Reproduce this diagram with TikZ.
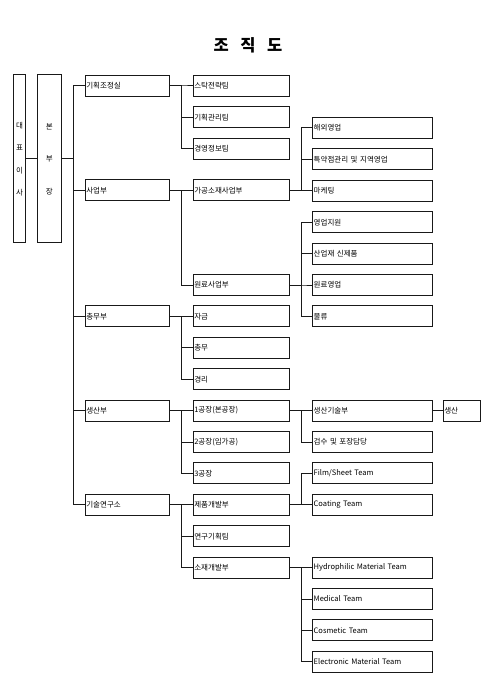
\documentclass[tikz,border=0pt]{standalone}
\usepackage{fontspec}
\newfontfamily\kr{Noto Sans CJK KR}

\begin{document}
\begin{tikzpicture}[x=1pt, y=-1pt, line width=1pt, color=black!90]
\useasboundingbox (0,0) rectangle (495,700);
\node[black, font=\kr\bfseries\fontsize{16.5}{18}\selectfont] (title) at (248,45.5) {조\hspace{11.5pt}직\hspace{11.5pt}도};
\tikzstyle{every node} = [draw, inner sep=1pt, minimum height=21pt, align=left, text=black, font=\kr\fontsize{7.5}{9}\selectfont]
\tikzstyle{lv1} = [text width=82pt]
\tikzstyle{lv2} = [text width=94pt]
\tikzstyle{lv3} = [text width=118pt]
\node[minimum width=12.4pt, minimum height=168pt, inner sep=0pt, align=center, font=\kr\fontsize{7.5}{22.4}\selectfont] (ceo) at (19.5,159) {대\\표\\이\\사};
\node[minimum width=24pt, minimum height=168pt, inner sep=0pt, align=center, font=\kr\fontsize{7.5}{32.5}\selectfont] (hd) at (49.3,159) {본\\부\\장};
\node[lv1] (pl) at (127.3,86) {기획조정실};
\node[lv1] (biz) at (127.3,190.5) {사업부};
\node[lv1] (ga) at (127.3,316.4) {총무부};
\node[lv1] (pr) at (127.3,410.6) {생산부};
\node[lv1] (rd) at (127.3,504.8) {기술연구소};
\node[lv2] (d1) at (241.3,86) {스탁전략팀};
\node[lv2] (d2) at (241.3,117.4) {기획관리팀};
\node[lv2] (d3) at (241.3,148.8) {경영정보팀};
\node[lv2] (d4) at (241.3,190.5) {가공소재사업부};
\node[lv2] (d5) at (241.3,285) {원료사업부};
\node[lv2] (d6) at (241.3,316.4) {자금};
\node[lv2] (d7) at (241.3,347.8) {총무};
\node[lv2] (d8) at (241.3,379.2) {경리};
\node[lv2] (d9) at (241.3,410.6) {1공장(본공장)};
\node[lv2] (d10) at (241.3,442) {2공장(임가공)};
\node[lv2] (d11) at (241.3,473.4) {3공장};
\node[lv2] (d12) at (241.3,504.8) {제품개발부};
\node[lv2] (d13) at (241.3,536.2) {연구기획팀};
\node[lv2] (d14) at (241.3,567.6) {소재개발부};
\node[lv3] (e1) at (372.7,128) {해외영업};
\node[lv3] (e2) at (372.7,159.4) {특약점관리 및 지역영업};
\node[lv3] (e3) at (372.7,190.8) {마케팅};
\node[lv3] (e4) at (372.7,222.2) {영업지원};
\node[lv3] (e5) at (372.7,253.6) {산업재 신제품};
\node[lv3] (e6) at (372.7,285) {원료영업};
\node[lv3] (e7) at (372.7,316.4) {물류};
\node[lv3] (e8) at (372.7,410.6) {생산기술부};
\node[lv3] (e9) at (372.7,442) {검수 및 포장담당};
\node[lv3] (e10) at (372.7,473.4) {Film/Sheet Team};
\node[lv3] (e11) at (372.7,504.8) {Coating Team};
\node[lv3] (e12) at (372.7,567.6) {Hydrophilic Material Team};
\node[lv3] (e13) at (372.7,599) {Medical Team};
\node[lv3] (e14) at (372.7,630.4) {Cosmetic Team};
\node[lv3] (e15) at (372.7,661.8) {Electronic Material Team};
\node[text width=35.4pt] (f1) at (462,410.6) {생산};
\draw (ceo) -- (hd);
\foreach \c in {pl,biz,ga,pr,rd} \draw (hd.east) -- ++(12,0) |- (\c.west);
\foreach \c in {d1,d2,d3} \draw (pl.east) -- ++(12,0) |- (\c.west);
\foreach \c in {d4,d5} \draw (biz.east) -- ++(12,0) |- (\c.west);
\foreach \c in {d6,d7,d8} \draw (ga.east) -- ++(12,0) |- (\c.west);
\foreach \c in {d9,d10,d11} \draw (pr.east) -- ++(12,0) |- (\c.west);
\foreach \c in {d12,d13,d14} \draw (rd.east) -- ++(12,0) |- (\c.west);
\foreach \c in {e1,e2,e3} \draw (d4.east) -- ++(12,0) |- (\c.west);
\foreach \c in {e4,e5,e6,e7} \draw (d5.east) -- ++(12,0) |- (\c.west);
\foreach \c in {e8,e9} \draw (d9.east) -- ++(12,0) |- (\c.west);
\foreach \c in {e10,e11} \draw (d12.east) -- ++(12,0) |- (\c.west);
\foreach \c in {e12,e13,e14,e15} \draw (d14.east) -- ++(12,0) |- (\c.west);
\draw (e8) -- (f1);
\end{tikzpicture}
\end{document}
